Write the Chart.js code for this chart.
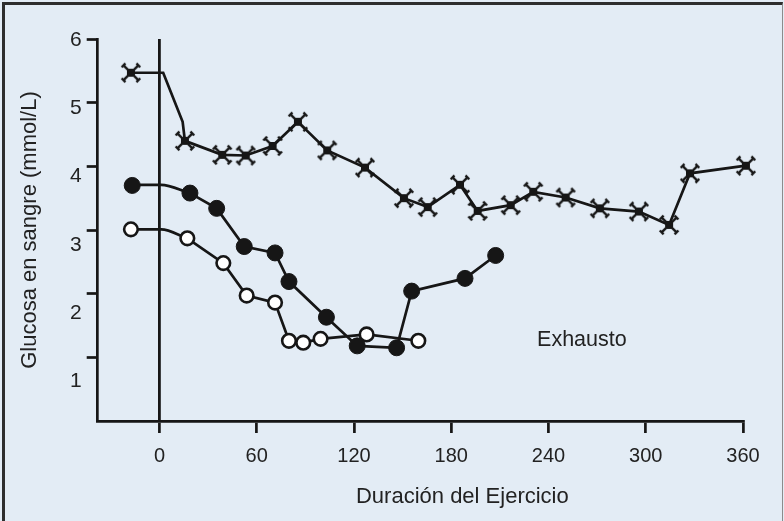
<!DOCTYPE html>
<html>
<head>
<meta charset="utf-8">
<script src="https://cdn.jsdelivr.net/npm/chart.js@4"></script>
<style>
html,body{margin:0;padding:0;background:#e3ecf5;}
#wrap{position:relative;width:784px;height:521px;overflow:hidden;}
#c{position:absolute;left:0;top:0;background:#e3ecf5;}
#frame{position:absolute;left:2px;top:2px;width:781px;height:540px;box-sizing:border-box;
  border-left:3px solid #2e2e2e;border-top:3px solid #2e2e2e;border-right:1px solid #8c8c8c;pointer-events:none;}
</style>
</head>
<body>
<div id="wrap">
<canvas id="c" width="784" height="521"></canvas>
<div id="frame"></div>
</div>
<script>
// ---- data ----
const xTicks = [0, 60, 120, 180, 240, 300, 360];
const yTicks = [1, 2, 3, 4, 5, 6];

// series with cross markers
const crossX = [-17.6, 15.7, 38.7, 53.2, 69.8, 85.4, 103.5, 126.8, 150.8, 165.5, 185.4, 196.3, 216.7, 230.6, 250.6, 271.7, 295.8, 314.4, 327.3, 361.8];
const crossY = [5.47, 4.40, 4.18, 4.17, 4.32, 4.70, 4.25, 3.98, 3.50, 3.36, 3.71, 3.30, 3.39, 3.60, 3.51, 3.34, 3.29, 3.08, 3.89, 4.01];
// leading line of the cross series (first marker -> second marker)
const crossLeadX = [-17.6, 2.3, 14.3, 15.7];
const crossLeadY = [5.47, 5.47, 4.70, 4.40];

// series with filled circles
const filledX = [-16.8, 18.8, 35.3, 52.3, 71.3, 79.9, 103.0, 122.0, 146.3, 155.6, 188.5, 207.4];
const filledY = [3.70, 3.58, 3.34, 2.74, 2.64, 2.19, 1.63, 1.18, 1.15, 2.04, 2.24, 2.60];
const filledLeadX = [-16.8, 1.0, 18.8];
const filledLeadY = [3.71, 3.71, 3.58];

// series with open circles
const openX = [-17.6, 17.2, 39.4, 53.8, 71.3, 79.9, 88.7, 99.4, 127.8, 159.7];
const openY = [3.01, 2.87, 2.48, 1.97, 1.86, 1.26, 1.23, 1.29, 1.36, 1.26];
const openLeadX = [-17.6, 1.0, 17.2];
const openLeadY = [3.01, 3.01, 2.87];

const xTitle = 'Duración del Ejercicio';
const yTitle = 'Glucosa en sangre (mmol/L)';
const noteText = 'Exhausto';
const noteX = 260.6, noteY = 1.27;

// ---- styles ----
const LINE = '#161616';
const TEXT = '#222222';
const FONT = '"Liberation Sans", Arial, Helvetica, sans-serif';
const NONE = 'rgba(0,0,0,0)';
const LW = 2.7;

const pts = (xs, ys) => xs.map((x, i) => ({x: x, y: ys[i]}));

// cross marker image
function makeCross() {
  const s = 24, c = s / 2, a = 7.4, f = 2.7;
  const cv = document.createElement('canvas');
  cv.width = s; cv.height = s;
  const g = cv.getContext('2d');
  g.strokeStyle = LINE; g.fillStyle = LINE; g.lineWidth = 2.4; g.lineCap = 'butt';
  g.beginPath();
  g.moveTo(c - a, c - a); g.lineTo(c + a, c + a);
  g.moveTo(c - a, c + a); g.lineTo(c + a, c - a);
  // serifs at the arm ends
  [[1,1],[1,-1],[-1,1],[-1,-1]].forEach(([dx, dy]) => {
    const ex = c + dx * a, ey = c + dy * a;
    const px = dy / Math.SQRT2 * f, py = -dx / Math.SQRT2 * f;
    g.moveTo(ex - px, ey - py); g.lineTo(ex + px, ey + py);
  });
  g.stroke();
  g.fillRect(c - 4, c - 4, 8, 8);
  return cv;
}
const crossImg = makeCross();

const firstSegHidden = {borderColor: ctx => ctx.p0DataIndex === 0 ? NONE : LINE};

const textPlugin = {
  id: 'texts',
  afterDraw(chart) {
    const {ctx, chartArea, scales} = chart;
    ctx.save();
    ctx.fillStyle = TEXT;
    ctx.textAlign = 'center';
    ctx.textBaseline = 'middle';
    ctx.font = '21.5px ' + FONT;
    ctx.fillText(noteText, scales.x.getPixelForValue(noteX), scales.y.getPixelForValue(noteY));
    ctx.font = '22px ' + FONT;
    ctx.fillText(xTitle, (chartArea.left + chartArea.right) / 2 + 42, chartArea.bottom + 76);
    ctx.restore();
  }
};

new Chart(document.getElementById('c'), {
  type: 'line',
  data: {
    datasets: [
      {data: pts(crossX, crossY), borderColor: LINE, borderWidth: LW, pointStyle: crossImg,
       segment: firstSegHidden, clip: false, order: 0},
      {data: pts(filledX, filledY), borderColor: LINE, borderWidth: LW, pointStyle: 'circle',
       pointRadius: 8, pointBackgroundColor: LINE, pointBorderColor: LINE, pointBorderWidth: 1,
       segment: firstSegHidden, clip: false, order: 0},
      {data: pts(openX, openY), borderColor: LINE, borderWidth: LW, pointStyle: 'circle',
       pointRadius: 6.8, pointBackgroundColor: '#ffffff', pointBorderColor: LINE, pointBorderWidth: 2.6,
       segment: firstSegHidden, clip: false, order: 0},
      {data: pts(crossLeadX, crossLeadY), borderColor: LINE, borderWidth: LW, pointRadius: 0, tension: 0, clip: false, order: 1},
      {data: pts(filledLeadX, filledLeadY), borderColor: LINE, borderWidth: LW, pointRadius: 0,
       cubicInterpolationMode: 'monotone', clip: false, order: 1},
      {data: pts(openLeadX, openLeadY), borderColor: LINE, borderWidth: LW, pointRadius: 0,
       cubicInterpolationMode: 'monotone', clip: false, order: 1}
    ]
  },
  options: {
    responsive: false,
    animation: false,
    events: [],
    layout: {padding: {left: 5, top: 39, right: 41, bottom: 0}},
    plugins: {legend: {display: false}, tooltip: {enabled: false}},
    scales: {
      x: {
        type: 'linear', position: 'bottom', min: -38.1, max: 360,
        afterBuildTicks: s => { s.ticks = xTicks.map(v => ({value: v})); },
        afterFit: s => { s.height = 100; },
        grid: {display: true, drawOnChartArea: true,
               color: c => (c.tick && c.tick.value === 0) ? LINE : NONE,
               lineWidth: 2.8, tickColor: LINE, tickLength: 12, tickWidth: 2.7},
        border: {display: true, color: LINE, width: 2.7},
        ticks: {color: TEXT, font: {family: FONT, size: 20}, padding: 11, maxRotation: 0}
      },
      y: {
        type: 'linear', position: 'left', min: 0, max: 6, weight: 0,
        afterBuildTicks: s => { s.ticks = yTicks.map(v => ({value: v})); },
        afterFit: s => { s.width = 11; },
        grid: {display: true, drawOnChartArea: false, color: LINE, tickColor: LINE, tickLength: 11, tickWidth: 2.7},
        border: {display: true, color: LINE, width: 2.7},
        ticks: {display: false}
      },
      yl: {
        axis: 'y', type: 'linear', position: 'left', min: 0.42, max: 6.015, weight: 1,
        afterBuildTicks: s => { s.ticks = yTicks.map(v => ({value: v})); },
        afterFit: s => { s.width = 81.7; },
        grid: {display: false, drawTicks: false},
        border: {display: false},
        ticks: {color: TEXT, font: {family: FONT, size: 21}, padding: 5},
        title: {display: true, text: yTitle, color: TEXT, font: {family: FONT, size: 22}, padding: {top: 12, bottom: 0}}
      }
    }
  },
  plugins: [textPlugin]
});
</script>
</body>
</html>
